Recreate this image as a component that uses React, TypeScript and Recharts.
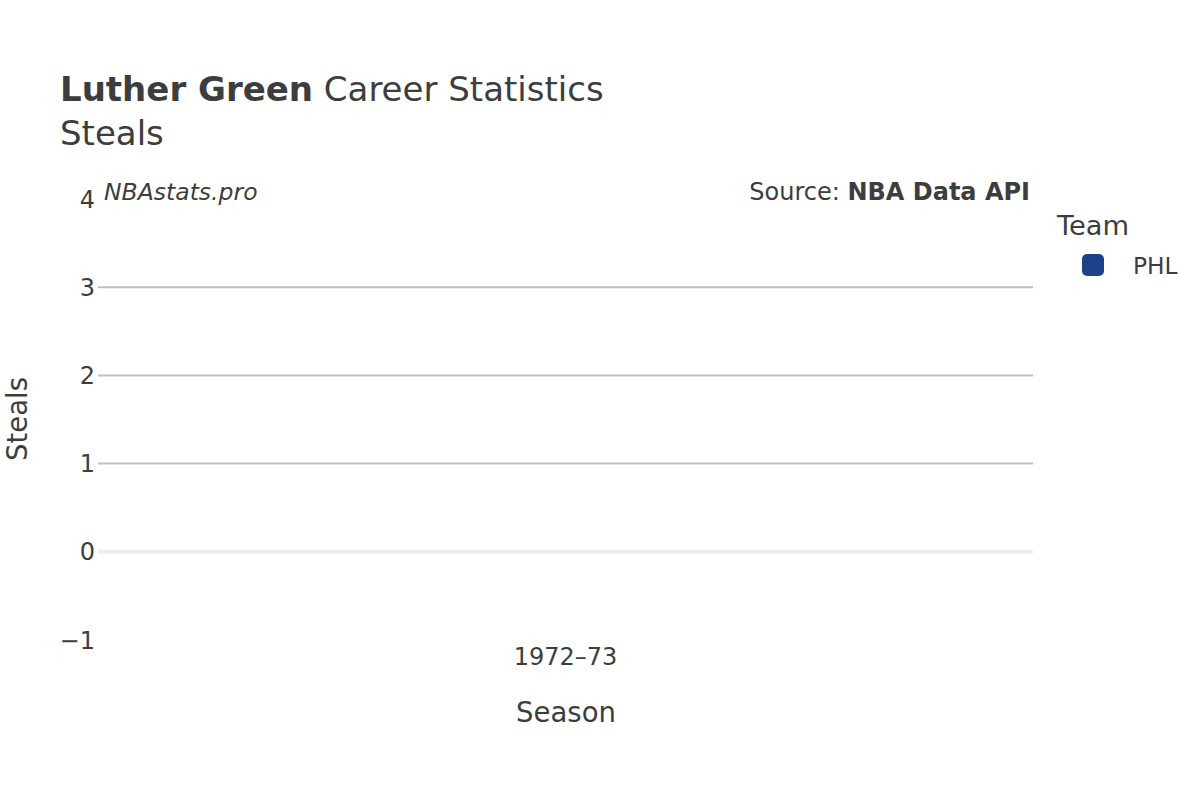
import React from 'react';
import { BarChart, Bar, XAxis, YAxis, ReferenceLine } from 'recharts';

const seasons = ['1972–73'];
const phlSteals = [0];
const yTicks = [-1, 0, 1, 2, 3, 4];
const gridValues = [1, 2, 3];

const TEAM_COLOR = '#1d428a';
const TEXT = '#3d3d3d';
const FONT = '"DejaVu Sans", sans-serif';

const data = seasons.map((season, i) => ({ season, PHL: phlSteals[i] }));

const fmt = (v: number) => (v < 0 ? '\u2212' + Math.abs(v) : String(v));

const App: React.FC = () => {
  return (
    <div style={{ position: 'absolute', left: 0, top: 0, width: 1200, height: 800, background: '#fff', fontFamily: FONT, color: TEXT }}>
      <div style={{ position: 'absolute', left: 60, top: 68, fontSize: 34, lineHeight: '42px', whiteSpace: 'nowrap' }}>
        <span style={{ fontWeight: 'bold' }}>Luther Green</span> Career Statistics
      </div>
      <div style={{ position: 'absolute', left: 60, top: 112, fontSize: 34, lineHeight: '42px' }}>Steals</div>
      <div style={{ position: 'absolute', left: 104, top: 177, fontSize: 23.5, lineHeight: '30px', fontStyle: 'italic' }}>NBAstats.pro</div>
      <div style={{ position: 'absolute', right: 170, top: 177, fontSize: 24, lineHeight: '30px', whiteSpace: 'nowrap' }}>
        Source: <span style={{ fontWeight: 'bold' }}>NBA Data API</span>
      </div>
      <div style={{ position: 'absolute', left: 1057, top: 209, fontSize: 27.3, lineHeight: '34px' }}>Team</div>
      <div style={{ position: 'absolute', left: 1082, top: 254, width: 22, height: 22, borderRadius: 5, background: TEAM_COLOR }} />
      <div style={{ position: 'absolute', left: 1133, top: 251, fontSize: 23.3, lineHeight: '30px' }}>PHL</div>
      <div style={{ position: 'absolute', left: 566, top: 694, transform: 'translateX(-50%)', fontSize: 27.5, lineHeight: '36px' }}>Season</div>
      <div style={{ position: 'absolute', left: 17, top: 419, transform: 'translate(-50%, -50%) rotate(-90deg)', fontSize: 27.5, lineHeight: '36px' }}>Steals</div>

      <div style={{ position: 'absolute', left: 0, top: 0 }}>
        <BarChart width={1200} height={800} data={data} margin={{ top: 199, right: 167, left: 0, bottom: 100 }}>
          <XAxis dataKey="season" axisLine={false} tickLine={false} height={60} tickMargin={2}
            tick={{ fill: TEXT, fontSize: 24, fontFamily: FONT }} />
          <YAxis domain={[-1, 4]} ticks={yTicks} width={98} axisLine={false} tickLine={false} tickSize={0} tickMargin={3}
            tickFormatter={fmt} tick={{ fill: TEXT, fontSize: 24, fontFamily: FONT }} />
          {gridValues.map((v) => (
            <ReferenceLine key={v} y={v} stroke="#c0c0c0" strokeWidth={2} />
          ))}
          <ReferenceLine y={0} stroke="#eeeeee" strokeWidth={4} />
          <Bar dataKey="PHL" fill={TEAM_COLOR} isAnimationActive={false} />
        </BarChart>
      </div>
    </div>
  );
};

export default App;
